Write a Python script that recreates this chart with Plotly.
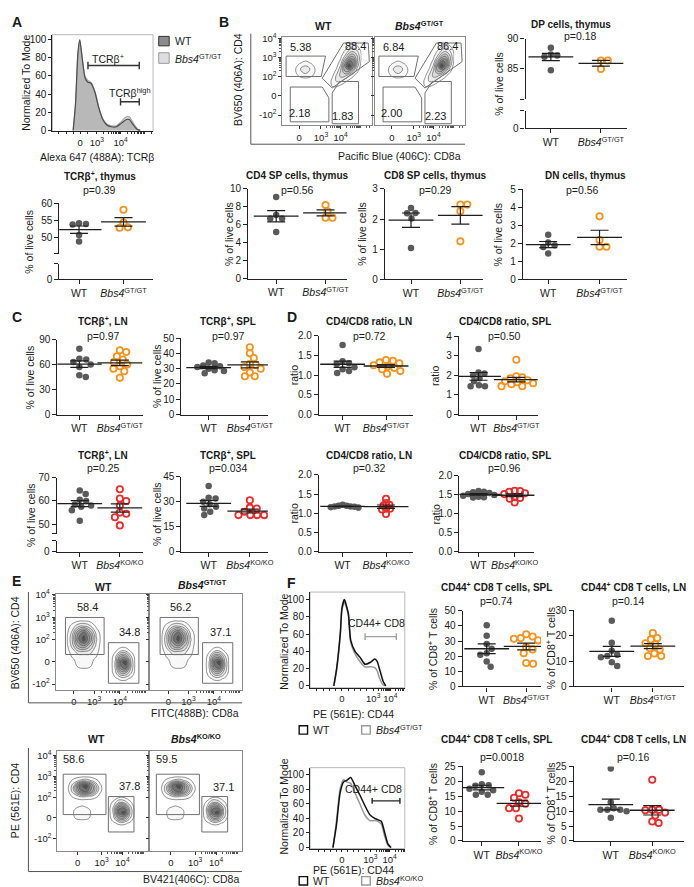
import numpy as np
import plotly.graph_objects as go

W, H = 694, 887
FONT = "Arial, Liberation Sans, sans-serif"
INK = "#1a1a1a"
WT_C = "#5b5b5b"
GT_C = "#f7941d"
KO_C = "#ee2b2b"

# ---------------- data ----------------
# A: TCRb histogram, thymus (display units: 0 -> 2.29, 10^3 -> 3, 10^4 -> 4)
tcrb_x = [2.0, 2.1, 2.2, 2.28, 2.38, 2.5, 2.62, 2.75, 2.92, 3.08, 3.25, 3.42, 3.62, 3.83, 4.04, 4.25, 4.37, 4.54, 4.71, 4.83]
tcrb_wt = [0, 30, 85, 100, 80, 58, 53, 52, 42, 25, 12, 6, 4, 4, 8, 12, 12, 6, 1, 0]
tcrb_gt = [0, 28, 83, 99, 81, 60, 55, 53, 43, 26, 13, 7, 5, 5, 10, 15, 15, 8, 2, 0]

# A / B: thymus, % of live cells
thy_tcrb_wt = [54.2, 54.0, 53.8, 50.8, 48.9]
thy_tcrb_gt = [58.1, 54.4, 53.0, 52.9]
thy_dp_wt = [88.5, 87.4, 87.2, 87.0, 84.8]
thy_dp_gt = [86.4, 86.4, 85.0]
thy_cd4_wt = [9.1, 7.1, 6.7, 6.7, 5.2]
thy_cd4_gt = [8.2, 7.5, 6.8, 6.8]
thy_cd8_wt = [2.37, 2.2, 2.19, 2.02, 1.04]
thy_cd8_gt = [2.48, 2.48, 2.26, 1.26]
thy_dn_wt = [2.48, 2.05, 1.9, 1.8, 1.44]
thy_dn_gt = [3.5, 2.19, 1.81, 1.81]

# C: TCRb+ % of live cells
ln_tcrb_wt = [79, 67, 66, 63, 60, 57, 47, 45]
ln_tcrb_gt = [77, 75, 70, 66, 63, 60, 58, 55, 52, 44]
spl_tcrb_wt = [34, 33.5, 32, 31.5, 31, 30, 29, 28.5, 27]
spl_tcrb_gt = [44, 40, 37, 33, 32.5, 31, 30, 27.5, 25, 25]
ln_tcrb_wt2 = [64.5, 63, 60.5, 60, 58.5, 58, 57.5, 56, 51.5]
ln_tcrb_ko = [65, 61, 60, 58, 55, 54.5, 53, 49.5]
spl_tcrb_wt2 = [39.5, 32.5, 32, 30, 28.5, 27, 26, 24, 22]
spl_tcrb_ko = [31, 26.5, 26, 24, 22, 22, 22, 22]

# D: CD4/CD8 ratio
ln_ratio_wt = [1.76, 1.35, 1.3, 1.28, 1.2, 1.15, 1.1, 1.05]
ln_ratio_gt = [1.38, 1.36, 1.32, 1.3, 1.25, 1.22, 1.18, 1.15, 1.1, 1.03]
spl_ratio_wt = [3.35, 2.15, 2.1, 2.0, 1.85, 1.7, 1.5, 1.45, 1.45]
spl_ratio_gt = [2.8, 1.95, 1.9, 1.85, 1.75, 1.7, 1.65, 1.6, 1.55, 1.45, 1.45]
ln_ratio_wt2 = [1.22, 1.2, 1.2, 1.18, 1.18, 1.17, 1.16, 1.15]
ln_ratio_ko = [1.38, 1.27, 1.22, 1.2, 1.12, 1.12, 1.1, 0.98]
spl_ratio_wt2 = [1.6, 1.58, 1.57, 1.55, 1.52, 1.5, 1.48, 1.45, 1.44, 1.43]
spl_ratio_ko = [1.61, 1.6, 1.58, 1.54, 1.52, 1.44, 1.42, 1.4, 1.3]

# F: CD44 histograms (display units: 0 -> 0, 10^3 -> 1)
cd44_x1 = [-0.26, -0.17, -0.05, 0.0, 0.08, 0.15, 0.21, 0.28, 0.42, 0.58, 0.74, 0.9, 1.05, 1.13, 1.19, 1.32, 1.4]
cd44_wt1 = [0, 20, 62, 90, 100, 92, 83, 53, 40, 33, 25, 27, 31, 28, 21, 5, 0]
cd44_gt1 = [0, 18, 60, 88, 97, 90, 80, 50, 37, 28, 22, 22, 21, 17, 10, 1, 0]
cd44_x2 = [-0.31, -0.19, -0.06, 0.06, 0.17, 0.31, 0.46, 0.63, 0.8, 0.98, 1.15, 1.27, 1.38, 1.5, 1.61, 1.72]
cd44_wt2 = [0, 30, 75, 90, 92, 96, 85, 72, 58, 45, 40, 38, 36, 20, 5, 0]
cd44_ko2 = [0, 35, 80, 93, 90, 88, 75, 60, 45, 37, 37, 36, 32, 15, 3, 0]

# F: CD44+ % of CD8+ T cells
spl_cd44_wt = [40.5, 33.5, 28, 25, 22, 21, 16.5, 13]
spl_cd44_gt = [34.5, 33, 32, 31.5, 30.5, 26, 24.5, 22, 15.5, 15]
ln_cd44_wt = [25.8, 17.2, 14, 12.5, 12, 11.5, 9.5, 8]
ln_cd44_gt = [21, 19, 18.5, 17, 16.5, 15, 14.5, 13, 12, 12]
spl_cd44_wt2 = [23, 19, 18.7, 18.5, 17.5, 17, 16.5, 15.5, 15.5]
spl_cd44_ko = [16, 15.5, 14.5, 13, 12.5, 11, 11, 7.5]
ln_cd44_wt2 = [24.3, 13, 11, 10.5, 10.5, 10.5, 10, 7.8]
ln_cd44_ko = [20.5, 10.5, 10.5, 10.3, 9.5, 8.5, 6.5, 6]

# flow density estimates (relative event density)
thy_dp_gx = [1.4, 1.6, 1.8, 2.0, 2.2, 2.4, 2.6, 2.8, 3.0]
thy_dp_gy = [0.3, 0.55, 0.8, 1.05, 1.3, 1.55, 1.8, 2.05, 2.3, 2.55, 2.8]
thy_dp_z = [
    [0, 0, 0, 0, 0, 0, 0, 0, 0],
    [0, 0.9, 1.0, 0.6, 0, 0, 0, 0, 0],
    [0, 1.0, 2.0, 2.2, 1.2, 0.5, 0, 0, 0],
    [0, 0.5, 2.0, 3.2, 3.2, 2.0, 0.9, 0, 0],
    [0, 0, 1.0, 3.0, 5.2, 5.5, 3.2, 1.0, 0],
    [0, 0, 0.4, 2.0, 6.0, 9.5, 6.5, 2.2, 0],
    [0, 0, 0, 1.0, 4.2, 7.5, 7.2, 3.0, 0.4],
    [0, 0, 0, 0.4, 2.0, 4.5, 5.0, 3.0, 0.6],
    [0, 0, 0, 0, 0.9, 2.2, 3.0, 2.0, 0.5],
    [0, 0, 0, 0, 0, 0.9, 1.4, 0.9, 0],
    [0, 0, 0, 0, 0, 0, 0, 0, 0],
]
thy_cd4_gx = [-0.3, 0, 0.3, 0.6, 0.9]
thy_cd4_gy = [0.8, 1.1, 1.4, 1.7, 2.0]
thy_cd4_z = [
    [0, 0, 0, 0, 0],
    [0, 1.0, 1.6, 1.0, 0],
    [0, 1.6, 2.6, 1.5, 0],
    [0, 0.6, 1.1, 0.6, 0],
    [0, 0, 0, 0, 0],
]
ln_cd4_gx = [-0.4, -0.1, 0.2, 0.5, 0.8, 1.1, 1.4]
ln_cd4_gy = [-0.5, -0.2, 0.1, 0.4, 0.7, 1.0, 1.3, 1.6, 1.9]
ln_cd4_z = [
    [0, 0, 0, 0, 0, 0, 0],
    [0, 0, 0.8, 1.0, 0.8, 0, 0],
    [0, 0.5, 1.0, 1.2, 1.0, 0.5, 0],
    [0, 1.0, 2.0, 2.0, 2.0, 1.0, 0],
    [0, 2.0, 5.0, 6.0, 4.0, 1.5, 0],
    [0, 2.5, 7.0, 9.0, 6.0, 2.0, 0],
    [0, 2.0, 6.0, 8.0, 5.0, 1.5, 0],
    [0, 1.0, 2.5, 3.0, 2.0, 0.5, 0],
    [0, 0, 0, 0, 0, 0, 0],
]
ln_cd8_gx = [1.8, 2.05, 2.3, 2.55, 2.8, 3.05]
ln_cd8_gy = [-1.0, -0.75, -0.5, -0.25, 0, 0.25, 0.5, 0.75]
ln_cd8_z = [
    [0, 0, 0, 0, 0, 0],
    [0, 0.5, 1.0, 1.0, 0.5, 0],
    [0, 1.5, 4.0, 4.0, 2.0, 0],
    [0, 2.0, 7.0, 8.0, 3.0, 0],
    [0, 2.0, 8.0, 9.0, 3.0, 0],
    [0, 1.5, 5.0, 5.0, 2.0, 0],
    [0, 0.5, 1.5, 1.5, 0.5, 0],
    [0, 0, 0, 0, 0, 0],
]
ko_cd4_gx = [-0.5, -0.2, 0.1, 0.4, 0.7, 1.0, 1.3]
ko_cd4_gy = [0.8, 1.05, 1.3, 1.55, 1.8, 2.05]
ko_cd4_z = [
    [0, 0, 0, 0, 0, 0, 0],
    [0, 1.0, 2.0, 2.0, 1.5, 0.5, 0],
    [0, 2.5, 7.0, 8.0, 5.0, 1.0, 0],
    [0, 2.5, 8.0, 9.0, 5.0, 1.0, 0],
    [0, 1.0, 2.0, 2.5, 1.5, 0.5, 0],
    [0, 0, 0, 0, 0, 0, 0],
]
ko_cd8_gx = [1.4, 1.65, 1.9, 2.15, 2.4, 2.65]
ko_cd8_gy = [-0.5, -0.25, 0, 0.25, 0.5, 0.75, 1.0, 1.25]
ko_cd8_z = [
    [0, 0, 0, 0, 0, 0],
    [0, 0.5, 1.0, 1.0, 0.5, 0],
    [0, 1.5, 5.0, 5.0, 2.0, 0],
    [0, 2.0, 8.0, 9.0, 3.0, 0],
    [0, 2.0, 7.0, 7.0, 2.5, 0],
    [0, 1.0, 3.0, 2.5, 1.0, 0],
    [0, 0, 0.5, 0.5, 0, 0],
    [0, 0, 0, 0, 0, 0],
]
ko_dn_gx = [-0.4, -0.1, 0.2, 0.5, 0.8]
ko_dn_gy = [-0.3, 0.0, 0.3, 0.55, 0.78]
ko_dn_z = [
    [0, 0, 0, 0, 0],
    [0, 0.8, 1.0, 0.8, 0],
    [0, 1.0, 1.3, 1.0, 0],
    [0, 0.5, 0.8, 0.5, 0],
    [0, 0, 0, 0, 0],
]

# ---------------- helpers ----------------
fig = go.Figure()
layout = {}
anns = []
shapes = []
counter = [0]

AX = dict(showline=True, linecolor="#222222", linewidth=1.1, ticks="outside", ticklen=4,
          tickwidth=1.1, tickcolor="#222222", showgrid=False, zeroline=False)
TF = dict(family=FONT, size=10, color=INK)
GRAYS = [[0, "rgba(255,255,255,0)"], [0.06, "rgba(255,255,255,0)"], [0.08, "#fcfcfc"],
         [0.3, "#e0e0e0"], [0.6, "#a6a6a6"], [0.85, "#5c5c5c"], [1, "#2e2e2e"]]


def new_axes():
    counter[0] += 1
    return counter[0]


def aname(kind, n):
    return kind if n == 1 else kind + str(n)


def aref(kind, n):
    return kind if n == 1 else kind + str(n)


def fx(px):
    return px / W


def fy(py):
    return 1 - py / H


def label(x, y, s, size=10, bold=False, anchor="center", angle=0, color=INK):
    if bold:
        s = "<b>" + s + "</b>"
    anns.append(dict(x=fx(x), y=fy(y), xref="paper", yref="paper", text=s, showarrow=False,
                     xanchor=anchor, yanchor="middle", textangle=angle,
                     font=dict(family=FONT, size=size, color=color)))


def pline(x0, y0, x1, y1, color="#222222", width=1):
    shapes.append(dict(type="line", xref="paper", yref="paper", x0=fx(x0), y0=fy(y0),
                       x1=fx(x1), y1=fy(y1), line=dict(color=color, width=width)))


def prect(x0, y0, x1, y1, line, fill="rgba(0,0,0,0)", width=1, layer="above"):
    shapes.append(dict(type="rect", xref="paper", yref="paper", x0=fx(x0), y0=fy(y1),
                       x1=fx(x1), y1=fy(y0), line=dict(color=line, width=width),
                       fillcolor=fill, layer=layer))


def swarm(vals, ppu, d):
    cands = [0.0]
    for k in range(1, 80):
        cands += [k * 0.5, -k * 0.5]
    placed, out = [], [0.0] * len(vals)
    for i in sorted(range(len(vals)), key=lambda i: -vals[i]):
        y = vals[i] * ppu
        for c in cands:
            if all((c - a) ** 2 + (y - b) ** 2 >= d * d for a, b in placed):
                break
        placed.append((c, y))
        out[i] = c
    return out


def minor_log(start, step, limit):
    out = []
    for d in range(5):
        for k in range(1, 10):
            if d == 0 and k == 1:
                continue
            v = start + step * (d + np.log10(k))
            if v < limit:
                out.append(float(v))
    return out


def dot_plot(cfg, wt, mut, color, tag):
    x0, x1, cw, cm = cfg["x"]
    unit = cm - cw
    n = new_axes()
    xa = aref("x", n)
    fmt = cfg.get("fmt", "{:g}")
    layout[aname("xaxis", n)] = dict(AX, domain=[fx(x0), fx(x1)], range=[(x0 - cw) / unit, (x1 - cw) / unit],
                                    anchor=aref("y", n), tickmode="array", tickvals=[0, 1],
                                    ticktext=["WT", "<i>Bbs4</i><sup>" + tag + "</sup>"],
                                    tickfont=dict(TF, size=10.5))

    def yaxis(top, bot, rng, ticks, blank=()):
        return dict(AX, domain=[fy(bot), fy(top)], range=rng, anchor=xa, tickmode="array", tickvals=ticks,
                    ticktext=["" if t in blank else fmt.format(t) for t in ticks], tickfont=TF)

    if "lower" in cfg:
        lt, lb, lr = cfg["lower"]
        layout[aname("yaxis", n)] = yaxis(lt, lb, lr, [0, lr[1]], blank=(lr[1],))
        # invisible point so the lower segment forms its own subplot
        fig.add_trace(go.Scatter(x=[0], y=[0], xaxis=xa, yaxis=aref("y", n), mode="markers",
                                 marker=dict(opacity=0), hoverinfo="skip"))
        m = new_axes()
        ut, ub, ur, uticks = cfg["upper"]
        layout[aname("yaxis", m)] = yaxis(ut, ub, ur, uticks, blank=(ur[0],))
        ya = aref("y", m)
        top, bot, rng = ut, ub, ur
        ymid = (ut + lb) / 2
    else:
        top, bot, rng, ticks = cfg["y"]
        layout[aname("yaxis", n)] = yaxis(top, bot, rng, ticks)
        ya = aref("y", n)
        ymid = (top + bot) / 2
    ppu = (bot - top) / (rng[1] - rng[0])
    for k, (vals, col, filled) in enumerate([(wt, WT_C, True), (mut, color, False)]):
        offs = swarm(vals, ppu, cfg.get("d", 6.6))
        xs = [k + o / unit for o in offs]
        if filled:
            marker = dict(size=6.5, color=col)
        else:
            marker = dict(size=6.3, color=col, symbol="circle-open", line=dict(width=1.8, color=col))
        fig.add_trace(go.Scatter(x=xs, y=vals, xaxis=xa, yaxis=ya, mode="markers", marker=marker))
        mean = float(np.mean(vals))
        sem = float(np.std(vals, ddof=1) / np.sqrt(len(vals)))
        fig.add_trace(go.Scatter(x=[k], y=[mean], xaxis=xa, yaxis=ya, mode="markers",
                                 marker=dict(symbol="line-ew", size=32, color="#1e1e1e",
                                             line=dict(width=1.3, color="#1e1e1e")),
                                 error_y=dict(type="data", array=[sem], width=9, thickness=1.2,
                                              color="#1e1e1e")))
    label(*cfg["tp"], cfg["t"], size=10, bold=True)
    label(*cfg["pp"], cfg["p"], size=10.5)
    label(cfg["ylx"], ymid, cfg.get("yl", "% of live cells"), size=10.5, angle=-90)


def flow_plot(box, xr, yr, xt, yt, show_y, patches, gates, nums, xminor, yminor):
    x0, x1, y0, y1 = box
    n = new_axes()
    xa, ya = aref("x", n), aref("y", n)
    FA = dict(showline=True, mirror=True, linecolor="#8a8a8a", linewidth=1, ticks="outside", ticklen=3,
              tickwidth=1, tickcolor="#333333", showgrid=False, zeroline=False,
              tickfont=dict(TF, size=9.5))
    layout[aname("xaxis", n)] = dict(FA, domain=[fx(x0), fx(x1)], range=xr, anchor=ya, tickmode="array",
                                    tickvals=xt[0], ticktext=xt[1],
                                    minor=dict(tickmode="array", tickvals=xminor, ticks="outside",
                                               ticklen=2, tickcolor="#555555"))
    layout[aname("yaxis", n)] = dict(FA, domain=[fy(y1), fy(y0)], range=yr, anchor=xa, tickmode="array",
                                    tickvals=yt[0], ticktext=yt[1], showticklabels=show_y,
                                    minor=dict(tickmode="array", tickvals=yminor, ticks="outside",
                                               ticklen=2, tickcolor="#555555"))
    for gx, gy, gz in patches:
        fig.add_trace(go.Contour(x=gx, y=gy, z=gz, xaxis=xa, yaxis=ya, showscale=False, zmin=0, zmax=10,
                                 colorscale=GRAYS, contours=dict(start=0.7, end=9.5, size=1.1, coloring="fill"),
                                 line=dict(color="#4a4a4a", width=0.6, smoothing=1.3), hoverinfo="skip"))
    for poly in gates:
        path = "M " + " L ".join(f"{a},{b}" for a, b in poly) + " Z"
        shapes.append(dict(type="path", path=path, xref=xa, yref=ya, line=dict(color="#707070", width=1)))
    for a, b, s in nums:
        anns.append(dict(x=a, y=b, xref=xa, yref=ya, text=s, showarrow=False,
                         font=dict(family=FONT, size=11, color=INK)))


def hist_axes(box, xr, yr, xt, xminor):
    x0, x1, y0, y1 = box
    n = new_axes()
    xa, ya = aref("x", n), aref("y", n)
    layout[aname("xaxis", n)] = dict(AX, domain=[fx(x0), fx(x1)], range=xr, anchor=ya, tickmode="array",
                                    tickvals=xt[0], ticktext=xt[1], tickfont=dict(TF, size=9.5), ticklen=2,
                                    minor=dict(tickmode="array", tickvals=xminor, ticks="outside",
                                               ticklen=2, tickcolor="#333333"))
    layout[aname("yaxis", n)] = dict(AX, domain=[fy(y1), fy(y0)], range=yr, anchor=xa, tickmode="array",
                                    tickvals=[0, 20, 40, 60, 80, 100], tickfont=TF, ticklen=3)
    prect(x0, y0, x1, y1, "#b8b8b8", layer="below")
    return xa, ya


def gate_bar(xa, ya, a, b, y, h, color):
    for s in [dict(x0=a, x1=b, y0=y, y1=y), dict(x0=a, x1=a, y0=y - h, y1=y + h), dict(x0=b, x1=b, y0=y - h, y1=y + h)]:
        shapes.append(dict(type="line", xref=xa, yref=ya, line=dict(color=color, width=1.4), **s))


DEC = ["-10<sup>2</sup>", "0", "10<sup>2</sup>", "10<sup>3</sup>", "10<sup>4</sup>"]
XDEC = ["0", "10<sup>3</sup>", "10<sup>4</sup>"]

# ---------------- panel A ----------------
label(2, 8, "A", size=14, bold=True, anchor="left")
xa, ya = hist_axes((45, 147, 21, 119), [1.125, 5.375], [-1.09, 105.4], ([2.29, 3, 4], XDEC),
                   minor_log(3, 1, 5.375) + [1.4, 1.7, 2.0, 2.6])
fig.add_trace(go.Scatter(x=tcrb_x, y=tcrb_gt, xaxis=xa, yaxis=ya, mode="lines", fill="tozeroy",
                         fillcolor="#dcdcdc", line=dict(color="#a8a8a8", width=1.2, shape="spline", smoothing=0.6)))
fig.add_trace(go.Scatter(x=tcrb_x, y=tcrb_wt, xaxis=xa, yaxis=ya, mode="lines", fill="tozeroy",
                         fillcolor="rgba(140,140,140,0.45)",
                         line=dict(color="#4d4d4d", width=1.2, shape="spline", smoothing=0.6)))
gate_bar(xa, ya, 2.625, 4.79, 71.5, 4, "#333333")
gate_bar(xa, ya, 4.0, 4.79, 31.5, 4, "#333333")
anns.append(dict(x=3.49, y=79, xref=xa, yref=ya, text="TCRβ<sup>+</sup>", showarrow=False, font=dict(TF, size=10.5)))
anns.append(dict(x=4.39, y=42, xref=xa, yref=ya, text="TCRβ<sup>high</sup>", showarrow=False, font=dict(TF, size=10.5)))
label(18, 70, "Normalized To Mode", size=10.5, angle=-90)
label(90, 145, "Alexa 647 (488A): TCRβ", size=10.5)
prect(152.7, 22.7, 163.3, 32.3, "#333333", fill="#8c8c8c")
prect(152.7, 39.3, 163.3, 50, "#999999", fill="#dedede")
label(167, 27.5, "WT", size=10.5, anchor="left")
label(167, 44.7, "<i>Bbs4</i><sup>GT/GT</sup>", size=10.5, anchor="left")

dot_plot(dict(x=(52, 147, 72, 117), upper=(191.7, 243, [45.4, 60], [45.4, 50, 55, 60]), lower=(253, 269, [0, 4.5]),
              t="TCRβ<sup>+</sup>, thymus", tp=(93, 164), p="p=0.39", pp=(93, 178), ylx=21.7),
         thy_tcrb_wt, thy_tcrb_gt, GT_C, "GT/GT")

# ---------------- panel B ----------------
label(212, 8, "B", size=14, bold=True, anchor="left")
B_XR, B_YR = [-0.81, 3.52], [-1.54, 3.08]
b_gates = [
    [(-0.63, 2.07), (1.27, 2.07), (1.06, 1.01), (-0.63, 1.01)],
    [(1.11, 0.92), (2.14, 2.75), (3.33, 2.75), (3.38, 1.78), (1.59, 0.41)],
    [(-0.43, 0.46), (1.11, 0.46), (1.43, -0.1), (1.43, -1.35), (-0.43, -1.35)],
    [(1.59, 0.15), (1.95, 0.75), (2.86, 0.75), (2.86, -1.45), (1.59, -1.45)],
]
b_patches = [(thy_dp_gx, thy_dp_gy, thy_dp_z), (thy_cd4_gx, thy_cd4_gy, thy_cd4_z)]
bx_minor = minor_log(1.05, 0.95, 3.52)
by_minor = minor_log(1, 1, 3.08)
flow_plot((278, 369, 23, 113), B_XR, B_YR, ([0, 1.05, 2.0], XDEC), ([-1, 0, 1, 2, 3], DEC), True,
          b_patches, b_gates, [(0.08, 2.55, "5.38"), (2.7, 2.58, "88.4"), (0, -0.87, "2.18"), (2.1, -1.04, "1.83")],
          bx_minor, by_minor)
flow_plot((372, 463, 23, 113), B_XR, B_YR, ([0, 1.05, 2.0], XDEC), ([-1, 0, 1, 2, 3], DEC), False,
          b_patches, b_gates, [(0.08, 2.55, "6.84"), (2.7, 2.58, "86.4"), (0, -0.87, "2.00"), (2.1, -1.04, "2.23")],
          bx_minor, by_minor)
label(320, 11.7, "WT", size=10.5, bold=True)
label(416.7, 11.7, "<i>Bbs4</i><sup>GT/GT</sup>", size=10.5, bold=True)
label(233, 66, "BV650 (406A): CD4", size=10.5, angle=-90)
label(461, 144, "Pacific Blue (406C): CD8a", size=10.5, anchor="right")
pline(246, 20, 246, 132, "#555555", 1)
pline(246, 132, 463, 132, "#555555", 1)

dot_plot(dict(x=(524.3, 626.7, 550, 600.7), upper=(25, 86.4, [80, 90], [80, 85, 90]), lower=(98.3, 116, [0, 4.5]),
              t="DP cells, thymus", tp=(570, 10.7), p="p=0.18", pp=(580, 22.7), ylx=496.7),
         thy_dp_wt, thy_dp_gt, GT_C, "GT/GT")
dot_plot(dict(x=(243.3, 343, 271.7, 321.7), y=(177.3, 268.3, [0, 10], [0, 2, 4, 6, 8, 10]),
              t="CD4 SP cells, thymus", tp=(293, 164), p="p=0.56", pp=(293, 178.3), ylx=224),
         thy_cd4_wt, thy_cd4_gt, GT_C, "GT/GT")
dot_plot(dict(x=(381.7, 481, 408.3, 458.3), y=(177.3, 269, [0, 3], [0, 1, 2, 3]),
              t="CD8 SP cells, thymus", tp=(433, 164), p="p=0.29", pp=(433, 178.3), ylx=358.3),
         thy_cd8_wt, thy_cd8_gt, GT_C, "GT/GT")
dot_plot(dict(x=(521.7, 626.7, 547.3, 599.3), y=(177.75, 269, [0, 5], [0, 1, 2, 3, 4, 5]),
              t="DN cells, thymus", tp=(585, 163.3), p="p=0.56", pp=(581.7, 178.3), ylx=496.7),
         thy_dn_wt, thy_dn_gt, GT_C, "GT/GT")

# ---------------- panel C ----------------
label(2, 307, "C", size=14, bold=True, anchor="left")
dot_plot(dict(x=(50, 137, 72.3, 113.3), y=(330, 406, [0, 90], [0, 30, 60, 90]),
              t="TCRβ<sup>+</sup>, LN", tp=(96.7, 311.7), p="p=0.97", pp=(96.7, 326), ylx=22.7),
         ln_tcrb_wt, ln_tcrb_gt, GT_C, "GT/GT")
dot_plot(dict(x=(175.7, 263.3, 203.3, 245), y=(328.5, 406, [0, 50], [0, 10, 20, 30, 40, 50]), d=6,
              t="TCRβ<sup>+</sup>, SPL", tp=(223, 311.7), p="p=0.97", pp=(223, 326), ylx=151.7),
         spl_tcrb_wt, spl_tcrb_gt, GT_C, "GT/GT")
dot_plot(dict(x=(49.3, 137, 72.7, 113.3), upper=(470, 526.7, [46, 70], [46, 50, 60, 70]), lower=(534, 545, [0, 4]),
              t="TCRβ<sup>+</sup>, LN", tp=(96.7, 447.3), p="p=0.25", pp=(96.7, 460.7), ylx=22.7),
         ln_tcrb_wt2, ln_tcrb_ko, KO_C, "KO/KO")
dot_plot(dict(x=(175.7, 263.3, 203.3, 245), y=(469.3, 545, [0, 45], [0, 15, 30, 45]),
              t="TCRβ<sup>+</sup>, SPL", tp=(223, 447.3), p="p=0.034", pp=(223, 460.7), ylx=151.7),
         spl_tcrb_wt2, spl_tcrb_ko, KO_C, "KO/KO")

# ---------------- panel D ----------------
label(281, 307, "D", size=14, bold=True, anchor="left")
dot_plot(dict(x=(315, 410, 339, 383), y=(326, 406, [0, 2], [0, 0.5, 1, 1.5, 2]), fmt="{:.1f}",
              t="CD4/CD8 ratio, LN", tp=(366, 311.7), p="p=0.72", pp=(366, 326), yl="ratio", ylx=290),
         ln_ratio_wt, ln_ratio_gt, GT_C, "GT/GT")
dot_plot(dict(x=(456.7, 536.7, 476.7, 515), y=(326.7, 406, [0, 4], [0, 1, 2, 3, 4]), d=6,
              t="CD4/CD8 ratio, SPL", tp=(503.3, 311.7), p="p=0.50", pp=(503.3, 326), yl="ratio", ylx=433.3),
         spl_ratio_wt, spl_ratio_gt, GT_C, "GT/GT")
dot_plot(dict(x=(315, 410, 339, 383), y=(467.3, 545, [0, 2], [0, 0.5, 1, 1.5, 2]), fmt="{:.1f}", d=3.6,
              t="CD4/CD8 ratio, LN", tp=(366, 447.3), p="p=0.32", pp=(366, 460), yl="ratio", ylx=290),
         ln_ratio_wt2, ln_ratio_ko, KO_C, "KO/KO")
dot_plot(dict(x=(457.3, 533.3, 476.7, 513.3), y=(468.3, 545, [0, 2], [0, 0.5, 1, 1.5, 2]), fmt="{:.1f}", d=5.2,
              t="CD4/CD8 ratio, SPL", tp=(503.3, 447.3), p="p=0.96", pp=(503.3, 460), yl="ratio", ylx=433.3),
         spl_ratio_wt2, spl_ratio_ko, KO_C, "KO/KO")

# ---------------- panel E ----------------
label(2, 575, "E", size=14, bold=True, anchor="left")
E1_XR, E1_YR = [-0.89, 3.64], [-1.25, 3.04]
e1_gates = [[(-0.41, 0.33), (1.49, 0.33), (1.49, 1.99), (-0.41, 1.99)],
            [(1.70, -0.96), (3.20, -0.96), (3.20, 0.86), (1.70, 0.86)]]
e1_patches = [(ln_cd4_gx, ln_cd4_gy, ln_cd4_z), (ln_cd8_gx, ln_cd8_gy, ln_cd8_z)]
e1x_minor = minor_log(1, 1.26, 3.64)
ey_minor = minor_log(1, 1, 3.2)
flow_plot((48.3, 141.7, 588, 685), E1_XR, E1_YR, ([0, 1, 2.26], XDEC), ([-1, 0, 1, 2, 3], DEC), True,
          e1_patches, e1_gates, [(0.65, 2.48, "58.4"), (2.72, 1.36, "34.8")], e1x_minor, ey_minor)
flow_plot((144.3, 236.7, 588, 685), E1_XR, E1_YR, ([0, 1, 2.26], XDEC), ([-1, 0, 1, 2, 3], DEC), False,
          e1_patches, e1_gates, [(0.61, 2.48, "56.2"), (2.6, 1.33, "37.1")], e1x_minor, ey_minor)
label(96.7, 580.7, "WT", size=10.5, bold=True)
label(196.7, 578.3, "<i>Bbs4</i><sup>GT/GT</sup>", size=10.5, bold=True)
label(7, 637, "BV650 (406A): CD4", size=10.5, angle=-90)
label(236, 708.3, "FITC(488B): CD8a", size=10.5, anchor="right")
pline(20.7, 586, 20.7, 698.3, "#555555", 1)
pline(20.7, 698.3, 237, 698.3, "#555555", 1)

E2_XR, E2_YR = [-0.94, 3.23], [-1.59, 3.25]
e2_gates = [[(-0.67, 0.16), (1.3, 0.16), (1.3, 2.11), (-0.67, 2.11)],
            [(1.41, -0.68), (2.59, -0.68), (2.59, 1.03), (1.41, 1.03)]]
e2_patches = [(ko_cd4_gx, ko_cd4_gy, ko_cd4_z), (ko_cd8_gx, ko_cd8_gy, ko_cd8_z), (ko_dn_gx, ko_dn_gy, ko_dn_z)]
e2x_minor = minor_log(1.1, 0.96, 3.23)
flow_plot((50, 141.7, 746.7, 848.3), E2_XR, E2_YR, ([0, 1.1, 2.06], XDEC), ([-1, 0, 1, 2, 3], DEC), True,
          e2_patches, e2_gates, [(-0.2, 2.82, "58.6"), (2.39, 1.54, "37.8")], e2x_minor, ey_minor)
flow_plot((144.3, 236.7, 746.7, 848.3), E2_XR, E2_YR, ([0, 1.1, 2.06], XDEC), ([-1, 0, 1, 2, 3], DEC), False,
          e2_patches, e2_gates, [(-0.2, 2.82, "59.5"), (2.42, 1.51, "37.1")], e2x_minor, ey_minor)
label(90, 735, "WT", size=10.5, bold=True)
label(190, 734, "<i>Bbs4</i><sup>KO/KO</sup>", size=10.5, bold=True)
label(7, 797, "PE (561E): CD4", size=10.5, angle=-90)
label(236, 876.7, "BV421(406C): CD8a", size=10.5, anchor="right")
pline(20.7, 744, 20.7, 869.3, "#555555", 1)
pline(20.7, 869.3, 237, 869.3, "#555555", 1)

# ---------------- panel F ----------------
label(281, 577, "F", size=14, bold=True, anchor="left")
xa, ya = hist_axes((306, 402, 586, 683), [-1.02, 2.01], [-2.25, 108.7], ([0, 1, 1.55], XDEC),
                   minor_log(1, 0.55, 2.01) + [-0.8, -0.6, -0.4, -0.2, 0.2, 0.4, 0.6, 0.8])
fig.add_trace(go.Scatter(x=cd44_x1, y=cd44_gt1, xaxis=xa, yaxis=ya, mode="lines",
                         line=dict(color="#9a9a9a", width=1.5, shape="spline", smoothing=0.6)))
fig.add_trace(go.Scatter(x=cd44_x1, y=cd44_wt1, xaxis=xa, yaxis=ya, mode="lines",
                         line=dict(color="#111111", width=1.5, shape="spline", smoothing=0.6)))
gate_bar(xa, ya, 0.74, 1.74, 57, 4, "#a0a0a0")
anns.append(dict(x=1.1, y=72.7, xref=xa, yref=ya, text="CD44+ CD8", showarrow=False, font=dict(TF, size=10.5)))
label(280, 636, "Normalized To Mode", size=10.5, angle=-90)
label(350, 709.5, "PE (561E): CD44", size=10.5)
prect(295, 721.5, 303.5, 730, "#111111", fill="white", width=1.4)
label(306.5, 725.8, "WT", size=10.5, anchor="left")
prect(358.3, 721.5, 367, 730, "#9a9a9a", fill="white", width=1.4)
label(370.5, 725.8, "<i>Bbs4</i><sup>GT/GT</sup>", size=10.5, anchor="left")

xa, ya = hist_axes((306, 402, 764, 846), [-1.11, 2.2], [-1.35, 109.5], ([0, 1, 1.67], XDEC),
                   minor_log(1, 0.67, 2.2) + [-0.8, -0.6, -0.4, -0.2, 0.2, 0.4, 0.6, 0.8])
fig.add_trace(go.Scatter(x=cd44_x2, y=cd44_ko2, xaxis=xa, yaxis=ya, mode="lines",
                         line=dict(color="#9a9a9a", width=1.5, shape="spline", smoothing=0.6)))
fig.add_trace(go.Scatter(x=cd44_x2, y=cd44_wt2, xaxis=xa, yaxis=ya, mode="lines",
                         line=dict(color="#111111", width=1.5, shape="spline", smoothing=0.6)))
gate_bar(xa, ya, 1.06, 2.03, 64, 4, "#222222")
anns.append(dict(x=1.09, y=80, xref=xa, yref=ya, text="CD44+ CD8", showarrow=False, font=dict(TF, size=10.5)))
label(280, 803, "Normalized To Mode", size=10.5, angle=-90)
label(350, 868, "PE (561E): CD44", size=10.5)
prect(295, 874.5, 303.5, 883, "#111111", fill="white", width=1.4)
label(306.5, 878.8, "WT", size=10.5, anchor="left")
prect(358.3, 874.5, 367, 883, "#9a9a9a", fill="white", width=1.4)
label(370.5, 878.8, "<i>Bbs4</i><sup>KO/KO</sup>", size=10.5, anchor="left")

dot_plot(dict(x=(460.7, 540, 485, 525), y=(605, 681.7, [0, 50], [0, 10, 20, 30, 40, 50]),
              t="CD44<sup>+</sup> CD8 T cells, SPL", tp=(495, 580.7), p="p=0.74", pp=(495, 595),
              yl="% of CD8<sup>+</sup> T cells", ylx=430),
         spl_cd44_wt, spl_cd44_gt, GT_C, "GT/GT")
dot_plot(dict(x=(573, 685, 611.7, 653.3), y=(604.3, 681.7, [0, 30], [0, 10, 20, 30]),
              t="CD44<sup>+</sup> CD8 T cells, LN", tp=(634, 580.7), p="p=0.14", pp=(628.3, 595),
              yl="% of CD8<sup>+</sup> T cells", ylx=549),
         ln_cd44_wt, ln_cd44_gt, GT_C, "GT/GT")
dot_plot(dict(x=(460.7, 540, 480, 517.7), y=(762.7, 838.3, [0, 25], [0, 5, 10, 15, 20, 25]),
              t="CD44<sup>+</sup> CD8 T cells, SPL", tp=(495, 735), p="p=0.0018", pp=(500, 753.3),
              yl="% of CD8<sup>+</sup> T cells", ylx=430),
         spl_cd44_wt2, spl_cd44_ko, KO_C, "KO/KO")
dot_plot(dict(x=(573, 685, 610.7, 652.7), y=(762.7, 838.3, [0, 25], [0, 5, 10, 15, 20, 25]),
              t="CD44<sup>+</sup> CD8 T cells, LN", tp=(634, 735), p="p=0.16", pp=(633.3, 753.3),
              yl="% of CD8<sup>+</sup> T cells", ylx=549),
         ln_cd44_wt2, ln_cd44_ko, KO_C, "KO/KO")

fig.update_layout(width=W, height=H, margin=dict(l=0, r=0, t=0, b=0), paper_bgcolor="white",
                  plot_bgcolor="white", showlegend=False, font=dict(family=FONT, size=10, color=INK),
                  annotations=anns, shapes=shapes, **layout)
fig.write_html("out.html")
